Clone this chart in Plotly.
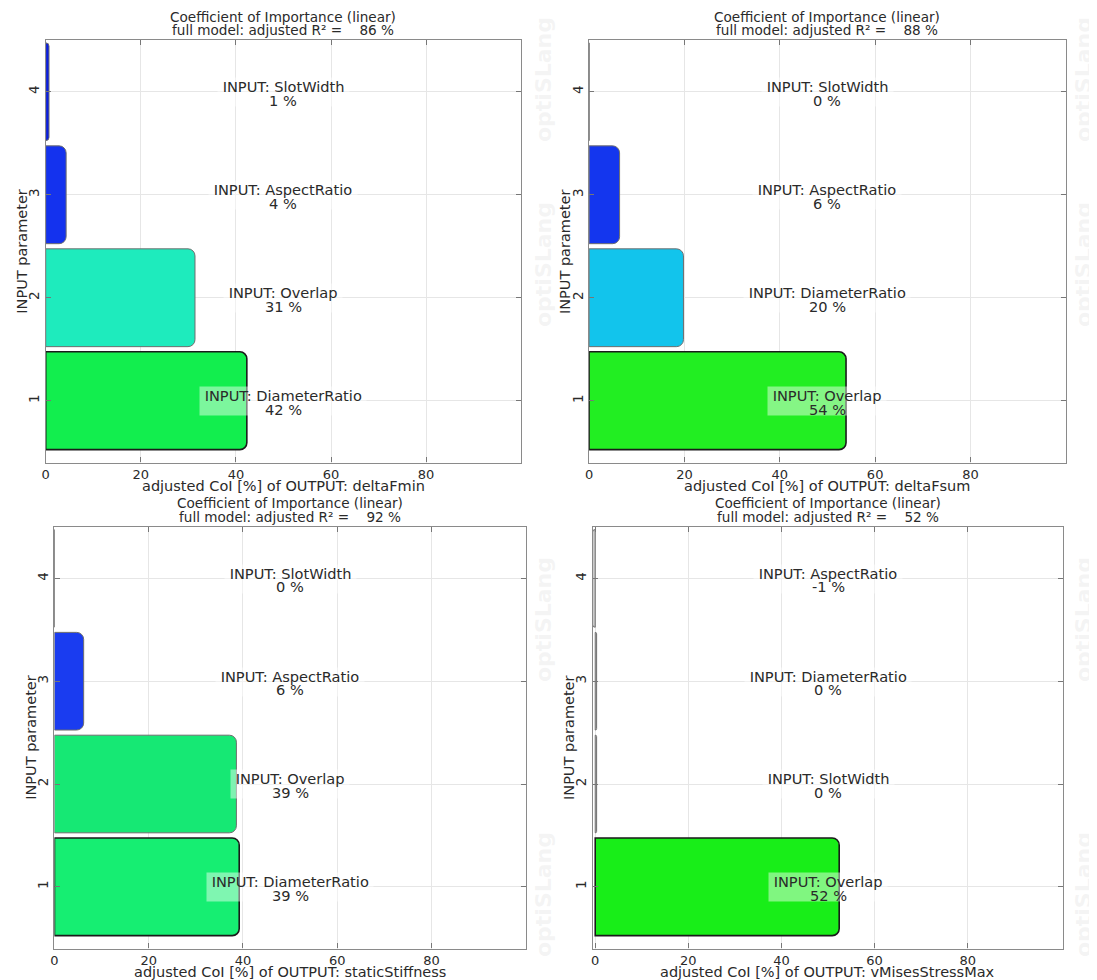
import plotly.graph_objects as go

# ---------------- data ----------------
positions = [1, 2, 3, 4]

p1_names = ["DiameterRatio", "Overlap", "AspectRatio", "SlotWidth"]
p1_values = [42.3, 31.4, 4.3, 0.7]
p1_r2 = 86
p1_output = "deltaFmin"

p2_names = ["Overlap", "DiameterRatio", "AspectRatio", "SlotWidth"]
p2_values = [53.9, 19.8, 6.4, 0.0]
p2_r2 = 88
p2_output = "deltaFsum"

p3_names = ["DiameterRatio", "Overlap", "AspectRatio", "SlotWidth"]
p3_values = [39.2, 38.6, 6.2, 0.0]
p3_r2 = 92
p3_output = "staticStiffness"

p4_names = ["Overlap", "SlotWidth", "DiameterRatio", "AspectRatio"]
p4_values = [52.4, 0.3, 0.3, -0.6]
p4_r2 = 52
p4_output = "vMisesStressMax"

x_ticks = [0, 20, 40, 60, 80]

p1_colors = ["#12ee4e", "#1eebbd", "#1432ee", "#0a1ee0"]
p2_colors = ["#22ee22", "#12c4ec", "#1436ee", "#1436ee"]
p3_colors = ["#16ee72", "#16e874", "#1a3cf0", "#1a3cf0"]
p4_colors = ["#18ee18", "#cccccc", "#cccccc", "#cccccc"]

FONT = "DejaVu Sans"
TXT = "#2a2a2a"

# page offset (browser body margin) and figure size
OFF = 8
W, H = 1097 - OFF, 980 - OFF


def fx(px):
    return (px - OFF) / W


def fy(py):
    return 1 - (py - OFF) / H


panels = [
    dict(names=p1_names, values=p1_values, r2=p1_r2, out=p1_output, colors=p1_colors,
         px=(41.8, 519.1), py=(40.3, 462.5), xr=[0, 100]),
    dict(names=p2_names, values=p2_values, r2=p2_r2, out=p2_output, colors=p2_colors,
         px=(587.2, 1065.7), py=(40.3, 462.5), xr=[0, 100]),
    dict(names=p3_names, values=p3_values, r2=p3_r2, out=p3_output, colors=p3_colors,
         px=(50.6, 523.7), py=(527.0, 948.5), xr=[0, 100]),
    dict(names=p4_names, values=p4_values, r2=p4_r2, out=p4_output, colors=p4_colors,
         px=(590.8, 1063.0), py=(527.0, 948.5), xr=[-0.55, 100.5]),
]

fig = go.Figure()
annotations = []
layout_axes = {}

for i, p in enumerate(panels, start=1):
    xa = "x" if i == 1 else f"x{i}"
    ya = "y" if i == 1 else f"y{i}"
    line_colors = ["#1a1a1a"] + ["#6e6e6e"] * (len(p["values"]) - 1)
    line_widths = [1.6] + [1.0] * (len(p["values"]) - 1)
    fig.add_trace(go.Bar(
        x=p["values"], y=positions, orientation="h", width=0.95,
        marker=dict(color=p["colors"], line=dict(color=line_colors, width=line_widths)),
        xaxis=xa, yaxis=ya, showlegend=False, hoverinfo="skip",
    ))
    axis_common = dict(
        showline=True, linecolor="#8a8a8a", linewidth=1.2, mirror="ticks",
        ticks="inside", ticklen=5, tickcolor="#777777",
        showgrid=True, gridcolor="#e6e6e6", gridwidth=1, zeroline=False,
        tickfont=dict(family=FONT, size=13, color=TXT),
    )
    dom_x = [fx(p["px"][0]), fx(p["px"][1])]
    dom_y = [fy(p["py"][1]), fy(p["py"][0])]
    layout_axes["xaxis" if i == 1 else f"xaxis{i}"] = dict(
        axis_common, domain=dom_x, range=p["xr"], tickvals=x_ticks, anchor=ya,
    )
    layout_axes["yaxis" if i == 1 else f"yaxis{i}"] = dict(
        axis_common, domain=dom_y, range=[0.4, 4.5], tickvals=positions,
        tickangle=-90, anchor=xa, tickfont=dict(family=FONT, size=13.5, color=TXT),
    )
    cx = (dom_x[0] + dom_x[1]) / 2
    cy = (dom_y[0] + dom_y[1]) / 2
    top_px, bot_px = p["py"]
    # title (two lines)
    annotations.append(dict(
        xref="paper", yref="paper", x=cx, y=fy(top_px - 23.5), yanchor="middle", xanchor="center",
        showarrow=False, text="Coefficient of Importance (linear)",
        font=dict(family=FONT, size=13.6, color=TXT),
    ))
    annotations.append(dict(
        xref="paper", yref="paper", x=cx, y=fy(top_px - 10.5), yanchor="middle", xanchor="center",
        showarrow=False,
        text="full model: adjusted R² =\u00a0\u00a0\u00a0\u00a0" + f"{p['r2']} %",
        font=dict(family=FONT, size=13.6, color=TXT),
    ))
    # x axis title
    annotations.append(dict(
        xref="paper", yref="paper", x=cx, y=fy(bot_px + 23.8), yanchor="middle", xanchor="center",
        showarrow=False, text=f"adjusted CoI [%] of OUTPUT: {p['out']}",
        font=dict(family=FONT, size=14.5, color=TXT),
    ))
    # y axis title
    annotations.append(dict(
        xref="paper", yref="paper", x=fx(p["px"][0] - 23.5), y=cy, xanchor="center", yanchor="middle",
        showarrow=False, textangle=-90, text="INPUT parameter",
        font=dict(family=FONT, size=14.5, color=TXT),
    ))
    # bar labels: first line carries the translucent box covering both lines
    for pos, name, val in zip(positions, p["names"], p["values"]):
        annotations.append(dict(
            xref=xa, yref=ya, x=50, y=pos, xanchor="center", yanchor="middle",
            yshift=-0.4, showarrow=False, text=f"\u00a0INPUT: {name}\u00a0",
            height=28, valign="top",
            font=dict(family=FONT, size=14.6, color=TXT),
            bgcolor="rgba(255,255,255,0.45)", borderpad=0,
        ))
        annotations.append(dict(
            xref=xa, yref=ya, x=50, y=pos, xanchor="center", yanchor="middle",
            yshift=-8.3, showarrow=False, text=f"{round(val):d} %",
            font=dict(family=FONT, size=14.6, color=TXT),
        ))

# faint watermarks
for wx in [541, 1083]:
    for wy in [80, 265, 620, 895]:
        annotations.append(dict(
            xref="paper", yref="paper", x=fx(wx), y=fy(wy), xanchor="center", yanchor="middle",
            showarrow=False, textangle=-90, text="<b>optiSLang</b>",
            font=dict(family=FONT, size=22, color="rgba(200,200,200,0.2)"),
        ))

fig.update_layout(
    width=W, height=H,
    margin=dict(l=0, r=0, t=0, b=0),
    paper_bgcolor="white", plot_bgcolor="white",
    barcornerradius=7,
    annotations=annotations,
    **layout_axes,
)

fig.write_html("out.html")
